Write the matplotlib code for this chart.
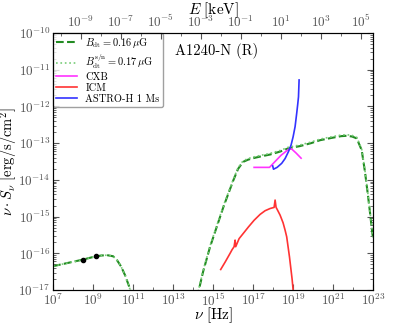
import numpy as np
import matplotlib.pyplot as plt
from matplotlib.ticker import FixedLocator, NullFormatter

plt.rcParams['mathtext.fontset'] = 'cm'
plt.rcParams['font.family'] = 'serif'
plt.rcParams['font.serif'] = ['cmr10', 'DejaVu Serif']
plt.rcParams['axes.formatter.use_mathtext'] = True
plt.rcParams['xtick.direction'] = 'in'
plt.rcParams['ytick.direction'] = 'in'

h_kev = 4.135667e-18  # keV s

# synchrotron (radio) part, log10 nu / log10 nuS
radio_lognu = [7.0, 7.5, 8.0, 8.5, 9.0, 9.4, 9.7, 10.0, 10.2, 10.4, 10.6, 10.8, 10.9]
radio_logs = [-16.35, -16.29, -16.23, -16.17, -16.1, -16.06, -16.05, -16.08, -16.19, -16.36, -16.6, -16.9, -17.1]

# inverse compton part
ic_lognu = [14.2, 14.5, 14.85, 15.2, 15.52, 15.8, 16.02, 16.25, 16.5, 16.75, 17.0, 17.4,
            17.85, 18.35, 18.77, 19.35, 19.9, 20.35, 20.9, 21.4, 21.68, 21.95, 22.18,
            22.43, 22.6, 22.75, 22.85, 22.95, 23.0]
ic_logs = [-17.2, -16.5, -15.82, -15.25, -14.73, -14.32, -14.0, -13.7, -13.51, -13.45,
           -13.41, -13.36, -13.31, -13.23, -13.14, -13.08, -13.0, -12.92, -12.86, -12.81,
           -12.8, -12.82, -12.87, -13.19, -13.8, -14.45, -14.91, -15.4, -15.6]
ic_logs_sn = [s + 0.03 for s in ic_logs]
radio_logs_sn = [s + 0.0 for s in radio_logs]

# observed radio points
pts_lognu = [8.47, 9.15]
pts_logs = [-16.19, -16.08]

# ICM thermal
icm_lognu = [15.38, 15.6, 15.85, 15.95, 16.05, 16.1, 16.13, 16.3, 16.55, 16.77, 17.05,
             17.35, 17.6, 17.85, 18.05, 18.1, 18.15, 18.2, 18.35, 18.5, 18.6, 18.68,
             18.82, 18.95, 19.02]
icm_logs = [-16.44, -16.24, -16.0, -15.9, -15.82, -15.64, -15.82, -15.6, -15.43, -15.28,
            -15.1, -14.94, -14.84, -14.78, -14.75, -14.55, -14.75, -14.8, -14.96, -15.17,
            -15.37, -15.55, -16.1, -16.7, -17.1]

# cosmic X-ray background
cxb_lognu = [17.05, 17.82, 18.1, 18.4, 18.77, 18.93, 19.15, 19.4]
cxb_logs = [-13.66, -13.66, -13.5, -13.33, -13.17, -13.16, -13.27, -13.41]

# ASTRO-H 1 Ms sensitivity
ah_lognu = [17.98, 18.02, 18.2, 18.43, 18.6, 18.77, 18.9, 19.0, 19.1, 19.18, 19.23, 19.27, 19.3]
ah_logs = [-13.62, -13.71, -13.66, -13.55, -13.42, -13.23, -13.05, -12.83, -12.55, -12.19,
           -11.95, -11.74, -11.28]

fig = plt.figure(figsize=(4.15, 3.23), dpi=100)
ax = fig.add_axes([0.128, 0.102, 0.771, 0.796])

p = lambda a: 10.0 ** np.array(a)

ax.plot(p(radio_lognu), p(radio_logs), '--', color='#228b22', lw=1.5,
        label=r'$B_{\rm dt}=0.16\,\mu{\rm G}$')
ax.plot(p(radio_lognu), p(radio_logs_sn), ':', color='#77cc77', lw=1.2,
        label=r'$B_{\rm dt}^{\rm s/n}=0.17\,\mu{\rm G}$')
ax.plot(p(ic_lognu), p(ic_logs), '--', color='#228b22', lw=1.5)
ax.plot(p(ic_lognu), p(ic_logs_sn), ':', color='#77cc77', lw=1.2)
ax.plot(p(cxb_lognu), p(cxb_logs), '-', color='#ff33ff', lw=1.2, label='CXB')
ax.plot(p(icm_lognu), p(icm_logs), '-', color='#ff3333', lw=1.2, label='ICM')
ax.plot(p(ah_lognu), p(ah_logs), '-', color='#3333ff', lw=1.2, label='ASTRO-H 1 Ms')
ax.plot(p(pts_lognu), p(pts_logs), 'o', color='k', ms=3)

ax.set_xscale('log')
ax.set_yscale('log')
ax.set_xlim(1e7, 1e23)
ax.set_ylim(1e-17, 1e-10)
ax.xaxis.set_major_locator(FixedLocator([10.0 ** e for e in range(7, 24, 2)]))
ax.xaxis.set_minor_locator(FixedLocator([10.0 ** e for e in range(8, 23, 2)]))
ax.xaxis.set_minor_formatter(NullFormatter())
ax.yaxis.set_major_locator(FixedLocator([10.0 ** e for e in range(-17, -9)]))
ax.tick_params(which='both', top=False, right=True, labelsize=9.5, colors='#555555', pad=2)
ax.tick_params(which='major', length=4)
ax.tick_params(which='minor', length=2)
for s in ax.spines.values():
    s.set_color('#333333')

ax.set_xlabel(r'$\nu\ [{\rm Hz}]$', fontsize=11)
ax.xaxis.set_label_coords(0.5, -0.06)
ax.set_ylabel(r'$\nu\cdot S_\nu\ [{\rm erg/s/cm^2}]$', fontsize=10.5)
ax.yaxis.set_label_coords(-0.102, 0.5)

top = ax.twiny()
top.set_xscale('log')
top.set_xlim(1e7 * h_kev, 1e23 * h_kev)
top.xaxis.set_major_locator(FixedLocator([10.0 ** e for e in range(-9, 6, 2)]))
top.xaxis.set_minor_locator(FixedLocator([10.0 ** e for e in range(-10, 6, 2)]))
top.xaxis.set_minor_formatter(NullFormatter())
top.tick_params(which='both', labelsize=9.5, colors='#555555', pad=2)
top.tick_params(which='major', length=4)
top.tick_params(which='minor', length=2)
top.set_xlabel(r'$E\ [{\rm keV}]$', fontsize=11, labelpad=0)

ax.text(0.51, 0.93, 'A1240-N (R)', transform=ax.transAxes,
        ha='center', va='center', fontsize=10.5)

leg = ax.legend(loc='upper left', fontsize=7.5, frameon=True, borderaxespad=0.0,
                handlelength=2.0, labelspacing=0.15, borderpad=0.3)
leg.get_frame().set_edgecolor('#888888')

fig.savefig('out.png', dpi=100)
